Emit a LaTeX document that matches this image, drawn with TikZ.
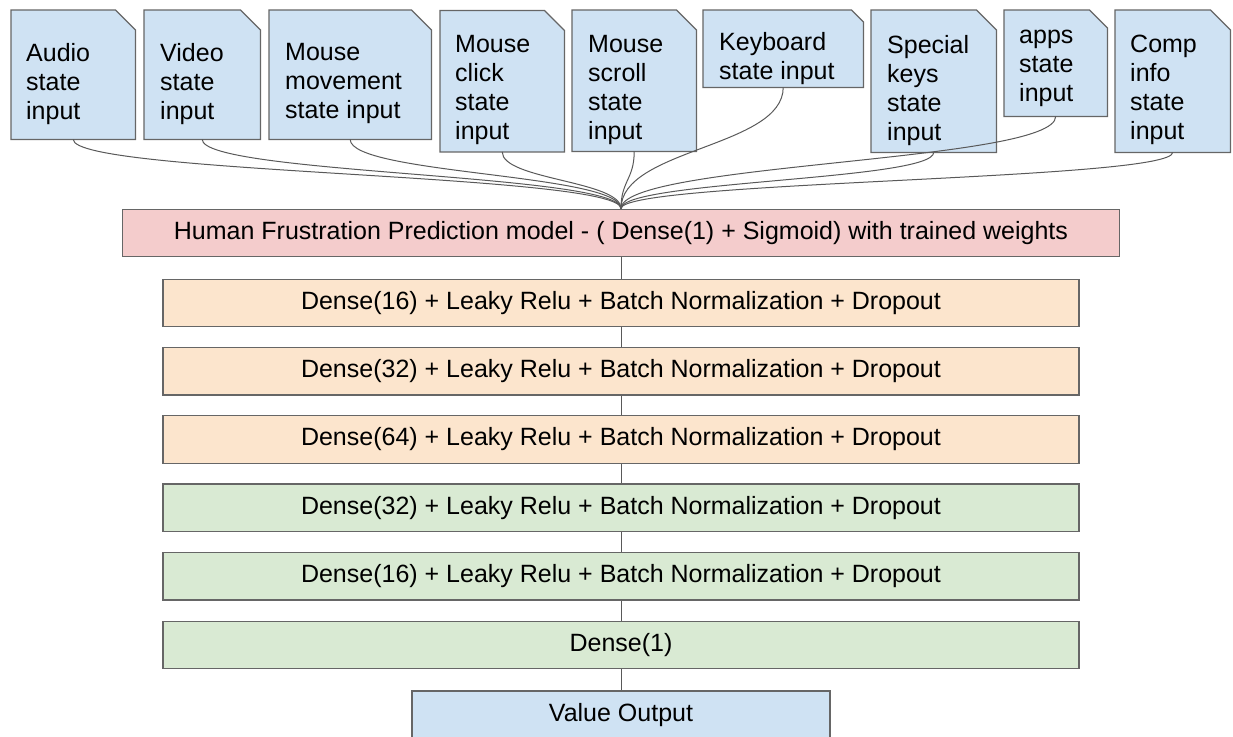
\documentclass[tikz,border=0pt]{standalone}
\usepackage{fontspec}
\setmainfont{Liberation Sans}
\usetikzlibrary{backgrounds}
\definecolor{inblue}{HTML}{CFE2F3}
\definecolor{modelred}{HTML}{F4CCCC}
\definecolor{layerorange}{HTML}{FCE5CD}
\definecolor{layergreen}{HTML}{D9EAD3}
\definecolor{edgegray}{HTML}{666666}
\definecolor{linkgray}{HTML}{595959}
\begin{document}
\begin{tikzpicture}[x=1pt,y=-1pt,
  every node/.style={font=\fontsize{25}{29}\selectfont, text=black},
  doc/.style 2 args={rectangle, inner sep=0pt, anchor=north west,
    minimum width=#1pt, minimum height=#2pt},
  doctext/.style={anchor=north west, inner sep=0pt, align=left,
    execute at begin node=\vphantom{A}},
  docshape/.style={fill=inblue, draw=edgegray, line width=1.2pt, line join=miter},
  layerbox/.style={rectangle, draw=edgegray, line width=1.2pt, inner sep=0pt,
    minimum width=916pt, minimum height=47.5pt},
  modelbox/.style={layerbox, fill=modelred, minimum width=997pt},
  densebox/.style={layerbox, fill=layerorange},
  headbox/.style={layerbox, fill=layergreen},
  outbox/.style={layerbox, fill=inblue, minimum width=418pt, minimum height=48pt},
  link/.style={draw=linkgray, line width=1pt},
]
\path[use as bounding box, clip] (0,0) rectangle (1233,736);

% input documents
\node[doc={124}{129}, label={[doctext, xshift=15, yshift=-33]north west:Audio\\state\\input}] (audio) at (11,10) {};
\node[doc={116}{129}, label={[doctext, xshift=16, yshift=-33]north west:Video\\state\\input}] (video) at (144,10) {};
\node[doc={162}{129}, label={[doctext, xshift=16, yshift=-33]north west:Mouse\\movement\\state input}] (move) at (269,10) {};
\node[doc={124}{141}, label={[doctext, xshift=15, yshift=-24.5]north west:Mouse\\click\\state\\input}] (click) at (440,10.5) {};
\node[doc={124}{141}, label={[doctext, xshift=16, yshift=-25]north west:Mouse\\scroll\\state\\input}] (scroll) at (572,10) {};
\node[doc={160}{77}, label={[doctext, xshift=16, yshift=-22]north west:Keyboard\\state input}] (keys) at (703,10) {};
\node[doc={125}{142}, label={[doctext, xshift=16, yshift=-25]north west:Special\\keys\\state\\input}] (special) at (871,10) {};
\node[doc={103}{106}, label={[doctext, xshift=15, yshift=-19.5]north west:apps\\state\\input}] (apps) at (1004,10) {};
\node[doc={115}{142}, label={[doctext, xshift=15, yshift=-25]north west:Comp\\info\\state\\input}] (comp) at (1115,10) {};

\begin{scope}[on background layer]
  \foreach \n/\c in {audio/20, video/20, move/20, click/20, scroll/20,
                     keys/12, special/20, apps/18, comp/20}
    \path[docshape] (\n.north west) -- ([xshift=-\c]\n.north east)
      -- ([yshift=-\c]\n.north east) -- (\n.south east) -- (\n.south west) -- cycle;
\end{scope}

% model and layer stack
\node[modelbox] (model) at (621,233) {Human Frustration Prediction model - ( Dense(1) + Sigmoid) with trained weights};
\node[densebox] (d16a) at (621,303) {Dense(16) + Leaky Relu + Batch Normalization + Dropout};
\node[densebox] (d32a) at (621,371.3) {Dense(32) + Leaky Relu + Batch Normalization + Dropout};
\node[densebox] (d64) at (621,439.5) {Dense(64) + Leaky Relu + Batch Normalization + Dropout};
\node[headbox] (d32b) at (621,507.8) {Dense(32) + Leaky Relu + Batch Normalization + Dropout};
\node[headbox] (d16b) at (621,576.2) {Dense(16) + Leaky Relu + Batch Normalization + Dropout};
\node[headbox] (d1) at (621,645) {Dense(1)};
\node[outbox] (out) at (621,715) {Value Output};

% curved links from the inputs into the model
\draw[link] (audio.south) .. controls +(0,35) and +(0,-35) .. (model.north);
\draw[link] (video.south) .. controls +(0,35) and +(0,-35) .. (model.north);
\draw[link] (move.south) .. controls +(0,35) and +(0,-35) .. (model.north);
\draw[link] (click.south) .. controls +(0,28) and +(0,-28) .. (model.north);
\draw[link] (scroll.south) .. controls +(0,28) and +(0,-28) .. (model.north);
\draw[link] (keys.south) .. controls +(0,60) and +(0,-60) .. (model.north);
\draw[link] (special.south) .. controls +(0,28) and +(0,-28) .. (model.north);
\draw[link] (apps.south) .. controls +(0,46) and +(0,-46) .. (model.north);
\draw[link] (comp.south) .. controls +(0,28) and +(0,-28) .. (model.north);

% straight links down the stack
\draw[link] (model.south) -- (d16a.north);
\draw[link] (d16a.south) -- (d32a.north);
\draw[link] (d32a.south) -- (d64.north);
\draw[link] (d64.south) -- (d32b.north);
\draw[link] (d32b.south) -- (d16b.north);
\draw[link] (d16b.south) -- (d1.north);
\draw[link] (d1.south) -- (out.north);
\end{tikzpicture}
\end{document}
